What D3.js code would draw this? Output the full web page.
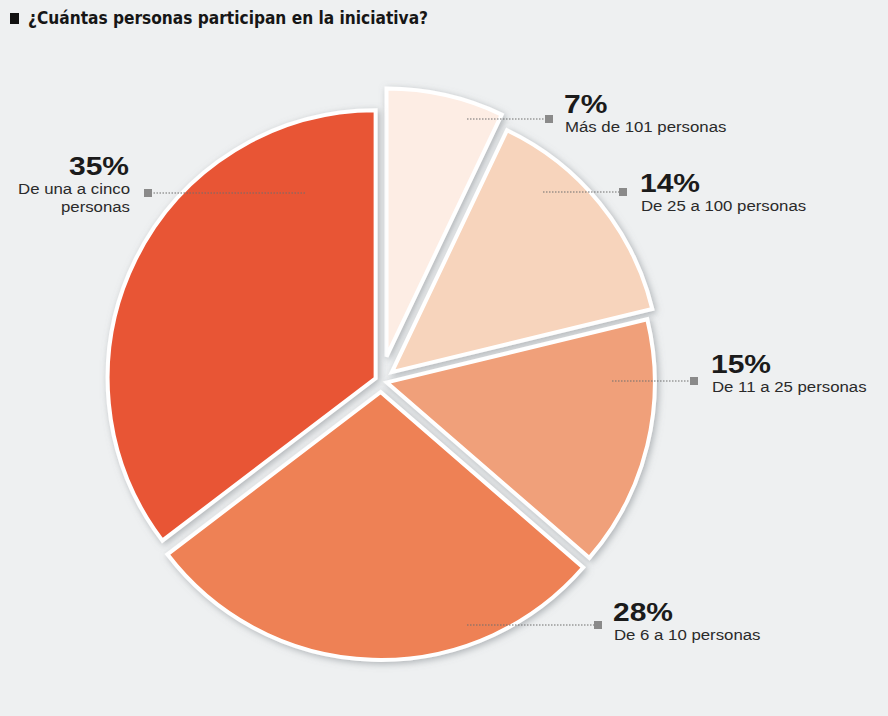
<html>
<head>
<style>
  body { margin: 0; background: #eef0f1; }
  text { font-family: "Liberation Sans", Arial, sans-serif; }
</style>
</head>
<body>

<svg id="svg" width="888" height="716"></svg>
<script src="https://d3js.org/d3.v7.min.js"></script>
<script>

var title = "¿Cuántas personas participan en la iniciativa?";
var categories = ["Más de 101 personas", "De 25 a 100 personas", "De 11 a 25 personas", "De 6 a 10 personas", "De una a cinco personas"];
var values = [7, 14, 15, 28, 35];
var pctLabels = ["7%", "14%", "15%", "28%", "35%"];
var labelLines = [["Más de 101 personas"], ["De 25 a 100 personas"], ["De 11 a 25 personas"], ["De 6 a 10 personas"], ["De una a cinco", "personas"]];
var colors = ["#fdede4", "#f7d4bc", "#f0a07a", "#ee8154", "#e85536"];

// layout
var cx = 381, cy = 381, r = 268;
var explode = [25, 14, 6, 11, 6];
// leader line: from (x1,y) to square at x2, text at tx
var lab = [
  {x1: 467, x2: 547, y: 119, tx: 564, ty: 113, anchor: "start"},
  {x1: 543, x2: 621, y: 192, tx: 640, ty: 192, anchor: "start"},
  {x1: 612, x2: 692, y: 381, tx: 711, ty: 373, anchor: "start"},
  {x1: 467, x2: 596, y: 625, tx: 613, ty: 621, anchor: "start"},
  {x1: 305, x2: 150, y: 193, tx: 129, ty: 175, anchor: "end"}
];

var svg = d3.select("#svg");

svg.append("rect").attr("width", 888).attr("height", 716).style("fill", "#eef0f1");

var defs = svg.append("defs");
defs.append("filter").attr("id", "sh")
  .attr("x", "-20%").attr("y", "-20%").attr("width", "140%").attr("height", "140%")
  .append("feDropShadow")
  .attr("dx", 2).attr("dy", 2).attr("stdDeviation", 3.5)
  .attr("flood-color", "#7a7f85").attr("flood-opacity", 0.55);

// title
svg.append("rect").attr("x", 10).attr("y", 13).attr("width", 9).attr("height", 11).style("fill", "#111");
svg.append("text")
  .attr("x", 28).attr("y", 24)
  .style("font-family", "'Liberation Sans Narrow', 'DejaVu Sans Condensed', sans-serif")
  .style("font-weight", "bold").style("font-size", "17px").style("fill", "#161616")
  .attr("textLength", 400).attr("lengthAdjust", "spacingAndGlyphs")
  .text(title);

var pie = d3.pie().sort(null).value(d => d);
var arcs = pie(values);
var arc = d3.arc().innerRadius(0).outerRadius(r);

var slices = svg.append("g").attr("transform", "translate(" + cx + "," + cy + ")")
  .selectAll("path").data(arcs)
  .join("path")
    .attr("transform", (d, i) => {
      var a = (d.startAngle + d.endAngle) / 2;
      return "translate(" + (Math.sin(a) * explode[i]) + "," + (-Math.cos(a) * explode[i]) + ")";
    })
    .attr("d", arc)
    .style("fill", (d, i) => colors[i])
    .style("stroke", "#fff")
    .style("stroke-width", 4)
    .style("stroke-linejoin", "miter")
    .attr("filter", "url(#sh)");

// leader lines and labels
var g = svg.append("g").selectAll("g.lab").data(arcs)
  .join("g").classed("lab", true);

g.append("line")
  .attr("x1", (d, i) => lab[i].x1).attr("x2", (d, i) => lab[i].x2)
  .attr("y1", (d, i) => lab[i].y).attr("y2", (d, i) => lab[i].y)
  .style("stroke", "#6e6e6e").style("stroke-width", 1.2)
  .style("stroke-dasharray", "1.5,1.5");

g.append("rect")
  .attr("x", (d, i) => lab[i].x2 + (lab[i].anchor == "start" ? 0 : -4) - 2)
  .attr("y", (d, i) => lab[i].y - 4)
  .attr("width", 8).attr("height", 8)
  .style("fill", "#8a8a8a");

g.append("text")
  .attr("transform", (d, i) => "translate(" + lab[i].tx + "," + lab[i].ty + ") scale(1.2,1)")
  .attr("text-anchor", (d, i) => lab[i].anchor)
  .style("font-weight", "bold").style("font-size", "25px").style("fill", "#1b1b1b")
  .text((d, i) => pctLabels[i]);

g.each(function(d, i) {
  d3.select(this).selectAll("text.sub").data(labelLines[i])
    .join("text").classed("sub", true)
    .attr("transform", (t, j) => "translate(" + (lab[i].tx + 1) + "," + (lab[i].ty + 19 + j * 18) + ") scale(1.12,1)")
    .attr("text-anchor", lab[i].anchor)
    .style("font-size", "15px").style("fill", "#2a2a2a")
    .text(t => t);
});

</script>
</body>
</html>
